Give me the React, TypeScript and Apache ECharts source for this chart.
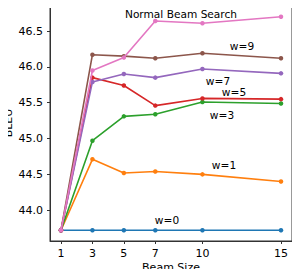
import React, { useEffect, useRef } from "react";
import * as echarts from "echarts";

const beamSizes = [1, 3, 5, 7, 10, 15];
const xTicks = [1, 3, 5, 7, 10, 15];
const yTicks = [44.0, 44.5, 45.0, 45.5, 46.0, 46.5];

const w0 = [43.72, 43.72, 43.72, 43.72, 43.72, 43.72];
const w1 = [43.72, 44.71, 44.52, 44.54, 44.5, 44.4];
const w3 = [43.72, 44.97, 45.31, 45.34, 45.51, 45.49];
const w5 = [43.72, 45.85, 45.74, 45.46, 45.56, 45.55];
const w7 = [43.72, 45.79, 45.9, 45.85, 45.97, 45.91];
const w9 = [43.72, 46.17, 46.15, 46.12, 46.19, 46.12];
const normal = [43.72, 45.95, 46.13, 46.64, 46.61, 46.7];

const seriesNames = ["w=0", "w=1", "w=3", "w=5", "w=7", "w=9", "Normal Beam Search"];
const seriesData = [w0, w1, w3, w5, w7, w9, normal];
const colors = ["#1f77b4", "#ff7f0e", "#2ca02c", "#d62728", "#9467bd", "#8c564b", "#e377c2"];

const FONT = "DejaVu Sans";

export default function App() {
  const ref = useRef<HTMLDivElement>(null);
  useEffect(() => {
    if (!ref.current) return;
    const chart = echarts.init(ref.current, undefined, { renderer: "svg" });
    const annotations = [
      { text: "Normal Beam Search", x: 181, y: 14 },
      { text: "w=9", x: 242, y: 46 },
      { text: "w=7", x: 218, y: 81 },
      { text: "w=5", x: 234, y: 92 },
      { text: "w=3", x: 222, y: 115 },
      { text: "w=1", x: 224, y: 165 },
      { text: "w=0", x: 167, y: 220 },
    ];
    chart.setOption({
      animation: false,
      grid: {
        left: 50,
        top: 6,
        right: 8,
        bottom: 36,
        show: true,
        borderColor: "#333",
        borderWidth: 1,
        backgroundColor: "transparent",
        containLabel: false,
        outerBoundsMode: "none",
      },
      xAxis: {
        type: "value",
        min: 0.3,
        max: 15.7,
        axisLine: { show: true, lineStyle: { color: "#333", width: 1 } },
        axisTick: { show: true, length: 3, lineStyle: { color: "#333" }, customValues: xTicks },
        axisLabel: { fontFamily: FONT, fontSize: 11, color: "#000", margin: 7, customValues: xTicks },
        splitLine: { show: false },
      },
      yAxis: {
        type: "value",
        min: 43.57,
        max: 46.85,
        axisLine: { show: true, lineStyle: { color: "#333", width: 1 } },
        axisTick: { show: true, length: 3, lineStyle: { color: "#333" }, customValues: yTicks },
        axisLabel: {
          fontFamily: FONT,
          fontSize: 11,
          color: "#000",
          margin: 7,
          customValues: yTicks,
          formatter: (v: number) => v.toFixed(1),
        },
        splitLine: { show: false },
      },
      series: seriesNames.map((name, i) => ({
        name,
        type: "line",
        data: beamSizes.map((b, j) => [b, seriesData[i][j]]),
        symbol: "circle",
        symbolSize: 4.5,
        showSymbol: true,
        lineStyle: { color: colors[i], width: 1.6 },
        itemStyle: { color: colors[i] },
        z: 2 + i,
      })),
      graphic: [
        {
          type: "text",
          x: 8,
          y: 123,
          rotation: Math.PI / 2,
          style: {
            text: "BLEU",
            fontFamily: FONT,
            fontSize: 11,
            fill: "#000",
            align: "center",
            verticalAlign: "middle",
          },
        },
        {
          type: "text",
          x: 171,
          y: 267,
          style: {
            text: "Beam Size",
            fontFamily: FONT,
            fontSize: 11,
            fill: "#000",
            align: "center",
            verticalAlign: "middle",
          },
        },
        ...annotations.map((a) => ({
          type: "text",
          x: a.x,
          y: a.y,
          z: 100,
          style: {
            text: a.text,
            fontFamily: FONT,
            fontSize: 10.6,
            fill: "#000",
            align: "center",
            verticalAlign: "middle",
          },
        })),
      ],
    });
    return () => chart.dispose();
  }, []);
  return <div ref={ref} style={{ width: 300, height: 277, margin: -8 }} />;
}
